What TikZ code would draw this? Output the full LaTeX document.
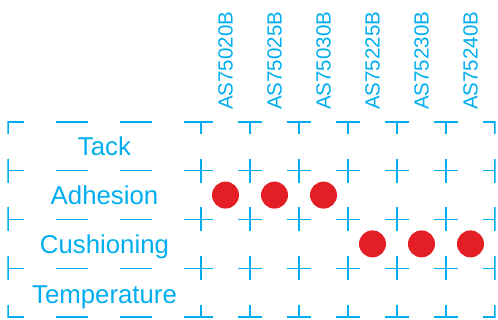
\documentclass[tikz,border=0pt]{standalone}
\usepackage{fontspec}
\setmainfont{Liberation Sans}
\usepackage{tikz}
\usetikzlibrary{positioning}
\definecolor{tblblue}{RGB}{0,174,239}
\definecolor{tblred}{RGB}{228,30,37}
\begin{document}
\begin{tikzpicture}[x=1pt,y=-1pt]
\tikzstyle{prop} = [text=tblblue, font=\fontsize{25.8}{30}\selectfont, inner sep=0pt, anchor=base]
\tikzstyle{part} = [text=tblblue, font=\fontsize{20.5}{24}\selectfont, inner sep=0pt, rotate=90, anchor=west]
\tikzstyle{dot} = [circle, fill=tblred, minimum size=27pt, inner sep=0pt]
\tikzstyle{rule} = [draw=tblblue, line width=1.4pt]

\useasboundingbox (0,0) rectangle (498,320);

% part numbers
\foreach \name [count=\c from 0] in {AS75020B,AS75025B,AS75030B,AS75225B,AS75230B,AS75240B}
{
   \node[part] (P\c) at ({225.5+49*\c},110) {\name};
}

% properties
\foreach \name [count=\r from 0] in {Tack,Adhesion,Cushioning,Temperature}
{
   \node[prop] (R\r) at (104.5,{155.2+49.3*\r}) {\name};
}

% grid
\begin{scope}
\clip (7.3,121.3) rectangle (495.7,317.7);
\foreach \r in {0,...,4}
{
   \draw[rule, dash pattern=on 32pt off 32pt, dash phase=16pt] (8,{122+48.75*\r}) -- (201,{122+48.75*\r});
   \draw[rule] (8,{110+48.75*\r}) -- ++(0,24);
   \foreach \c in {0,...,6}
   {
      \draw[rule] ({189+49*\c},{122+48.75*\r}) -- ++(24,0)
                  ({201+49*\c},{110+48.75*\r}) -- ++(0,24);
   }
}
\end{scope}

% marks
\foreach \c in {0,1,2}
{
   \node[dot] (A\c) at ({225.5+49*\c},195.1) {};
}
\foreach \c in {3,4,5}
{
   \node[dot] (C\c) at ({225.5+49*\c},243.9) {};
}

\end{tikzpicture}
\end{document}
